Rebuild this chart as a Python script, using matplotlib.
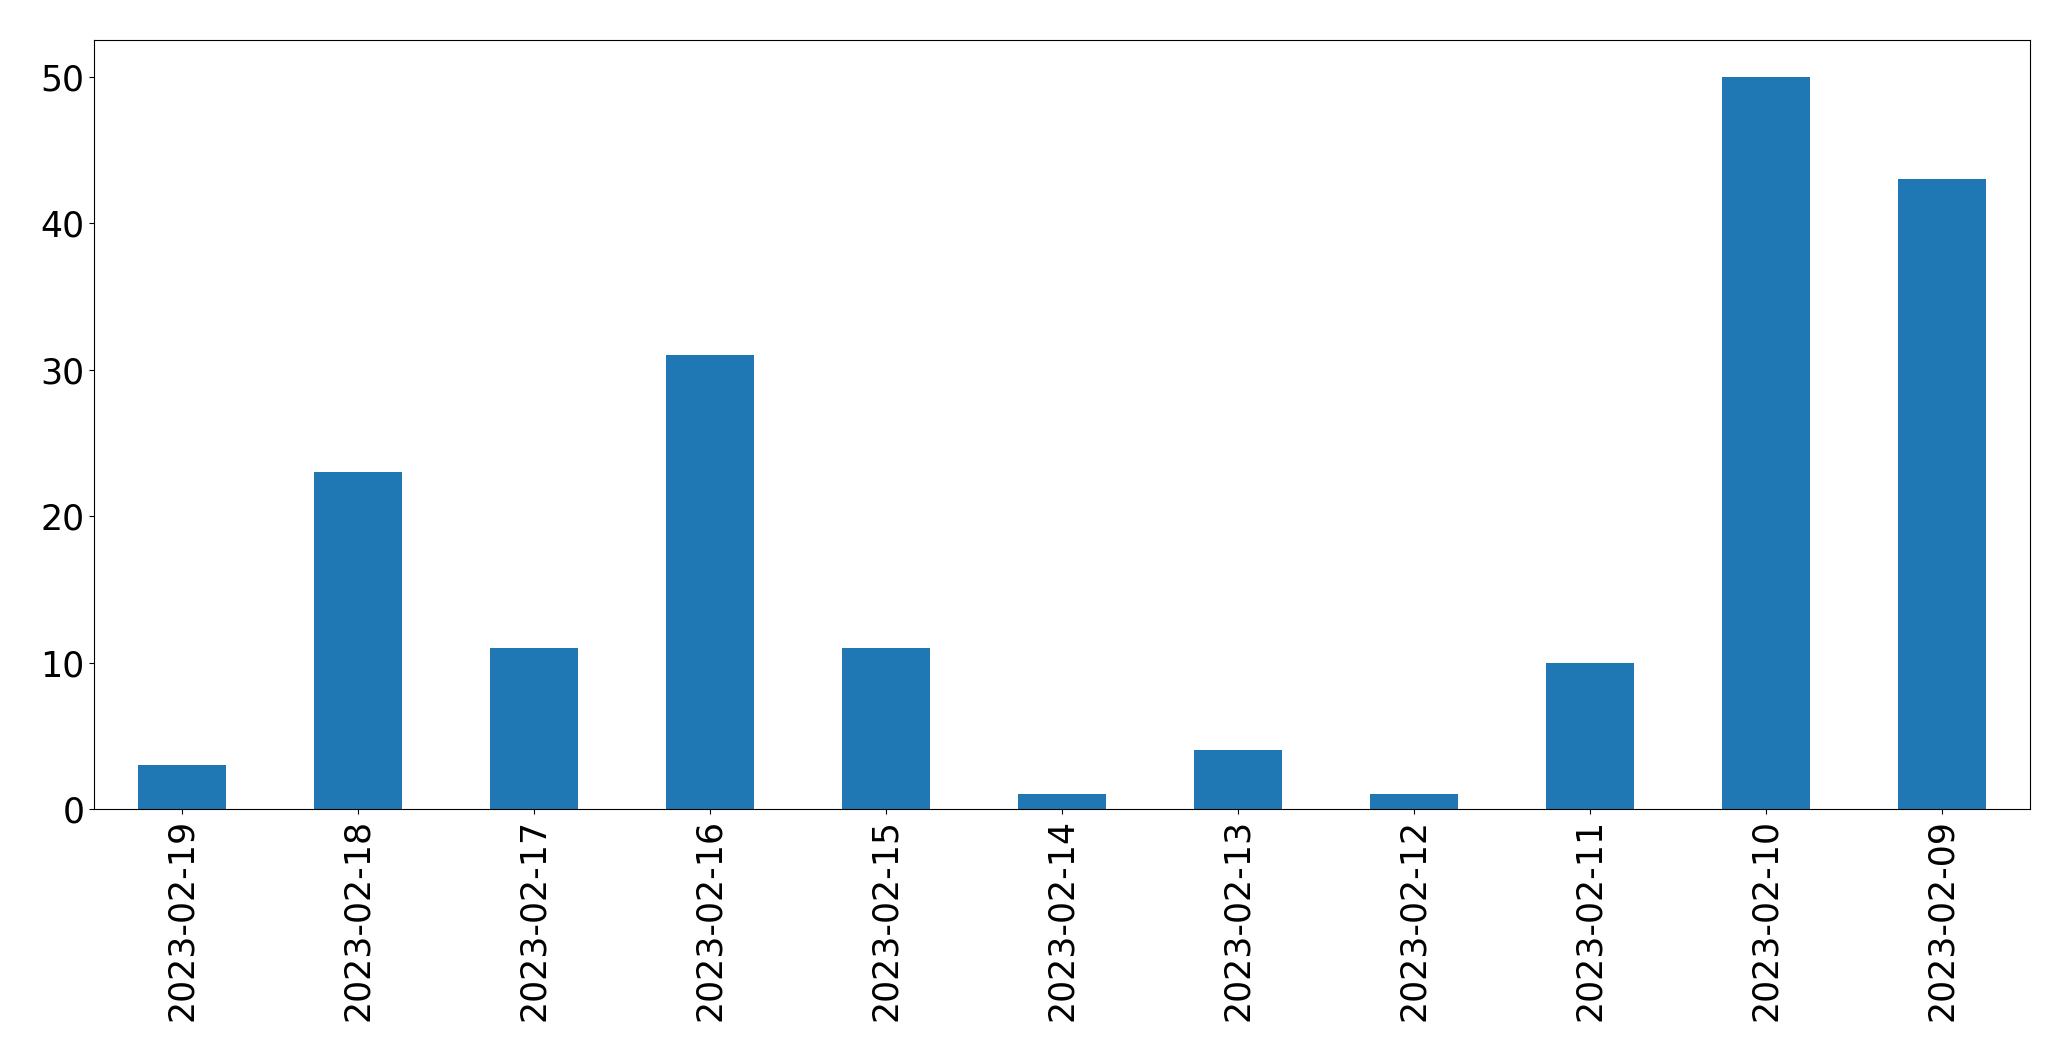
import matplotlib
matplotlib.use("Agg")
import matplotlib.pyplot as plt

dates = ["2023-02-19", "2023-02-18", "2023-02-17", "2023-02-16", "2023-02-15",
         "2023-02-14", "2023-02-13", "2023-02-12", "2023-02-11", "2023-02-10", "2023-02-09"]
counts = [3, 23, 11, 31, 11, 1, 4, 1, 10, 50, 43]

fig = plt.figure(figsize=(20.71, 10.61), dpi=100)
ax = fig.add_axes([94/2071, 1 - 809/1061, (2030-94)/2071, (809-40)/1061])
x = list(range(len(dates)))
ax.bar(x, counts, width=0.5, color="#1f77b4")
ax.set_xlim(-0.5, len(dates) - 0.5)
ax.set_xticks(x)
ax.set_xticklabels(dates, rotation=90)
ax.tick_params(labelsize=25)
ax.set_yticks([0, 10, 20, 30, 40, 50])
fig.savefig("out.png", dpi=100)
